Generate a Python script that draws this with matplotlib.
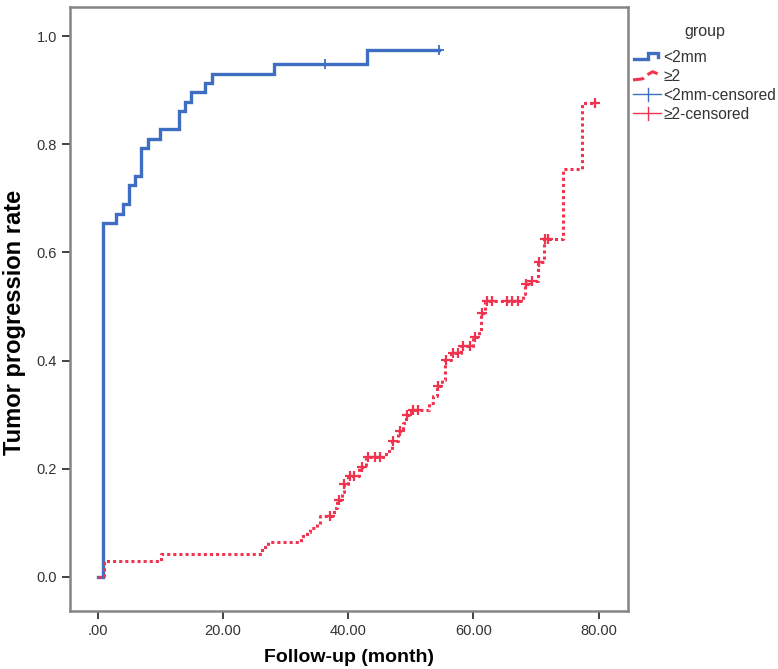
import numpy as np
import matplotlib
matplotlib.use("Agg")
import matplotlib.pyplot as plt
from matplotlib.lines import Line2D
from matplotlib.legend_handler import HandlerBase

plt.rcParams['font.family'] = ['Liberation Sans', 'DejaVu Sans']

# <2mm group: step times (month) and cumulative progression rate
blue_time = [0, 0.9, 3.0, 4.0, 5.0, 6.0, 7.0, 8.0, 9.9, 13.0, 14.0, 15.0, 17.2, 18.2, 28.2, 43.1, 54.6]
blue_rate = [0, 0.655, 0.672, 0.690, 0.724, 0.741, 0.793, 0.810, 0.828, 0.862, 0.879, 0.897, 0.914, 0.931,
             0.948, 0.974, 0.974]
blue_cens = [36.3, 54.6]

# >=2 group
red_time = [0, 1.0, 10.2, 26.2, 27.2, 32.5, 33.4, 34.0, 35.0, 35.5, 37.8, 38.3, 39.0, 39.3, 40.0, 41.8, 42.8,
            46.0, 47.0, 48.0, 48.8, 49.3, 50.0, 53.0, 53.5, 54.2, 55.0, 55.4, 56.5, 58.0, 60.0, 60.9, 61.2,
            61.8, 68.0, 68.3, 69.0, 70.3, 71.3, 74.4, 77.3, 79.5]
red_rate = [0, 0.029, 0.043, 0.056, 0.065, 0.075, 0.084, 0.091, 0.097, 0.112, 0.127, 0.142, 0.157, 0.172,
            0.187, 0.204, 0.221, 0.232, 0.251, 0.270, 0.285, 0.300, 0.309, 0.322, 0.334, 0.353, 0.364, 0.402,
            0.415, 0.427, 0.443, 0.455, 0.489, 0.511, 0.523, 0.542, 0.548, 0.582, 0.625, 0.755, 0.876, 0.876]
red_cens = [37.1, 38.5, 39.4, 40.3, 41.0, 42.2, 43.2, 44.3, 45.1, 47.2, 48.3, 49.4, 50.4, 51.2, 54.4, 55.6,
            56.8, 57.6, 58.4, 59.5, 60.3, 61.4, 62.2, 63.0, 65.4, 66.2, 67.2, 68.4, 69.3, 70.5, 71.5, 72.0, 79.5]

x_ticks = [0, 20, 40, 60, 80]
x_labels = ['.00', '20.00', '40.00', '60.00', '80.00']
y_ticks = [0.0, 0.2, 0.4, 0.6, 0.8, 1.0]
y_labels = ['0.0', '0.2', '0.4', '0.6', '0.8', '1.0']

BLUE = '#3e6ec2'
RED = '#f0334f'
TXT = '#333333'


def rate_at(times, rates, t):
    idx = np.searchsorted(times, t, side='right') - 1
    return np.asarray(rates)[idx]


class ShapeHandler(HandlerBase):
    # draws the legend key as a little polyline (step icon) or a wide cross
    def __init__(self, shape=None, cross=False, **kw):
        super().__init__(**kw)
        self.shape = shape
        self.cross = cross

    def create_artists(self, legend, orig_handle, xdescent, ydescent, width, height, fontsize, trans):
        x0, y0 = -xdescent, -ydescent
        kw = dict(color=orig_handle.get_color(), lw=orig_handle.get_linewidth(),
                  linestyle=orig_handle.get_linestyle(), solid_joinstyle='miter')
        if self.cross:
            arts = [Line2D([x0, x0 + width], [y0 + height / 2] * 2, **kw),
                    Line2D([x0 + width * 0.55] * 2, [y0 - height * 0.1, y0 + height * 1.1], **kw)]
        else:
            arts = [Line2D([x0 + f * width for f in self.shape[0]],
                           [y0 + f * height for f in self.shape[1]], **kw)]
        for a in arts:
            a.set_transform(trans)
        return arts


fig = plt.figure(figsize=(7.78, 6.69), dpi=100)
ax = fig.add_axes([70 / 778, 58 / 669, 558 / 778, 604 / 669])

ax.step(blue_time, blue_rate, where='post', color=BLUE, lw=2.4, solid_joinstyle='miter')
ax.step(red_time, red_rate, where='post', color=RED, lw=2.2, linestyle=(0, (1, 1)))
ax.plot(blue_cens, rate_at(blue_time, blue_rate, blue_cens), '+', color=BLUE, ms=7, mew=1.3)
ax.plot(red_cens, rate_at(red_time, red_rate, red_cens), '+', color=RED, ms=7, mew=1.6)

ax.set_xlim(-4.4, 84.7)
ax.set_ylim(-0.063, 1.054)
ax.set_xticks(x_ticks, x_labels)
ax.set_yticks(y_ticks, y_labels)
ax.tick_params(direction='out', length=6, width=1.3, color=TXT, labelsize=10.5, labelcolor=TXT)
for s in ax.spines.values():
    s.set_color('#858585')
    s.set_linewidth(1.8)

ax.set_xlabel('Follow-up (month)', fontsize=14, fontweight='bold', labelpad=8)
ax.set_ylabel('Tumor progression rate', fontsize=17, fontweight='bold')
ax.yaxis.set_label_coords(-0.079, 0.478)

h_blue = Line2D([], [], color=BLUE, lw=2.4)
h_red = Line2D([], [], color=RED, lw=2.2, linestyle=(0, (0.8, 0.9)))
h_bc = Line2D([], [], color=BLUE, lw=1.0)
h_rc = Line2D([], [], color=RED, lw=1.0)
leg = fig.legend([h_blue, h_red, h_bc, h_rc], ['<2mm', '≥2', '<2mm-censored', '≥2-censored'],
                 title='group', loc='upper left', bbox_to_anchor=(633 / 778, 1 - 24 / 669),
                 frameon=False, fontsize=11.2, title_fontsize=11.5, handlelength=1.8, handletextpad=0.15,
                 labelspacing=0.25, borderaxespad=0, borderpad=0,
                 handler_map={h_blue: ShapeHandler(([0.05, 0.55, 0.55, 0.9, 0.9],
                                                    [0.25, 0.25, 0.85, 0.85, 0.45])),
                              h_red: ShapeHandler(([0.0, 0.35, 0.45, 0.6, 0.7, 0.95],
                                                   [0.1, 0.2, 0.5, 0.7, 0.85, 0.6])),
                              h_bc: ShapeHandler(cross=True),
                              h_rc: ShapeHandler(cross=True)})
leg.get_title().set_color(TXT)
leg._legend_box.sep = 8
for t in leg.get_texts():
    t.set_color(TXT)

fig.savefig('out.png', dpi=100)
